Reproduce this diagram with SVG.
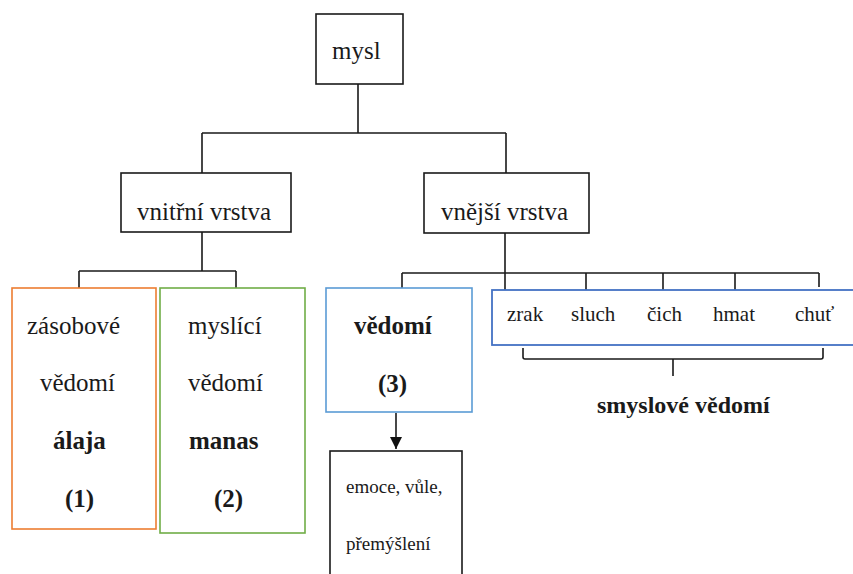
<svg xmlns="http://www.w3.org/2000/svg" width="853" height="574" viewBox="0 0 853 574">
<style>
text{font-family:"Liberation Serif",serif;fill:#1a1a1a}
.t{font-size:25px}
.b{font-weight:bold}
.s{font-size:21px}
.e{font-size:19px}
.box{fill:#fff;stroke:#1a1a1a;stroke-width:1.6}
.line{fill:none;stroke:#1a1a1a;stroke-width:1.6}
</style>
<defs>
<marker id="arr" markerWidth="13" markerHeight="12" refX="12" refY="6" orient="auto" markerUnits="userSpaceOnUse">
<path d="M0,0 L12,6 L0,12 z" fill="#111"/>
</marker>
</defs>
<rect width="853" height="574" fill="#fff"/>
<g id="connectors">
<path class="line" d="M358,84 V133 M202,133 H506 M202,133 V173 M506,133 V173"/>
<path class="line" d="M202,232 V271 M79,271 H236 M79,271 V288 M236,271 V288"/>
<path class="line" d="M505,233 V273 M402,273 H819 M402,273 V288 M505,273 V290 M586,273 V290 M663,273 V290 M735,273 V290 M819,273 V287"/>
<path class="line" d="M523,348 V357 Q523,359 525,359 H821 Q823,359 823,357 V348 M673,359 V376"/>
<path class="line" d="M396,413 V449" marker-end="url(#arr)"/>
</g>
<g id="mysl">
<rect class="box" x="316" y="14" width="87" height="70"/>
<text class="t" x="332" y="59" font-size="24">mysl</text>
</g>
<g id="vnitrni">
<rect class="box" x="121" y="173" width="170" height="59"/>
<text class="t" x="137" y="220">vnitřní vrstva</text>
</g>
<g id="vnejsi">
<rect class="box" x="424" y="173" width="165" height="60"/>
<text class="t" x="441" y="220">vnější vrstva</text>
</g>
<g id="alaja">
<rect x="12" y="288" width="144" height="241" fill="#fff" stroke="#ED7D31" stroke-width="1.6"/>
<text class="t" x="27" y="334">zásobové</text>
<text class="t" x="40" y="391">vědomí</text>
<text class="t b" x="53" y="449">álaja</text>
<text class="t b" x="65" y="507">(1)</text>
</g>
<g id="manas">
<rect x="160" y="288" width="145" height="245" fill="#fff" stroke="#70AD47" stroke-width="1.6"/>
<text class="t" x="188" y="334">myslící</text>
<text class="t" x="188" y="391">vědomí</text>
<text class="t b" x="189" y="449">manas</text>
<text class="t b" x="214" y="507">(2)</text>
</g>
<g id="vedomi">
<rect x="326" y="288" width="146" height="124" fill="#fff" stroke="#5B9BD5" stroke-width="1.6"/>
<text class="t b" x="354" y="334">vědomí</text>
<text class="t b" x="378" y="392">(3)</text>
</g>
<g id="emoce">
<rect class="box" x="330" y="451" width="132" height="130"/>
<text class="e" x="346" y="493">emoce, vůle,</text>
<text class="e" x="346" y="550">přemýšlení</text>
</g>
<g id="smysly">
<rect x="492" y="290" width="370" height="55" fill="#fff" stroke="#4472C4" stroke-width="1.8"/>
<text class="s" x="507" y="321">zrak</text>
<text class="s" x="571" y="321">sluch</text>
<text class="s" x="647" y="321">čich</text>
<text class="s" x="713" y="321">hmat</text>
<text class="s" x="795" y="321">chuť</text>
</g>
<g id="smyslove">
<text class="b" x="597" y="413" font-size="24">smyslové vědomí</text>
</g>
</svg>
